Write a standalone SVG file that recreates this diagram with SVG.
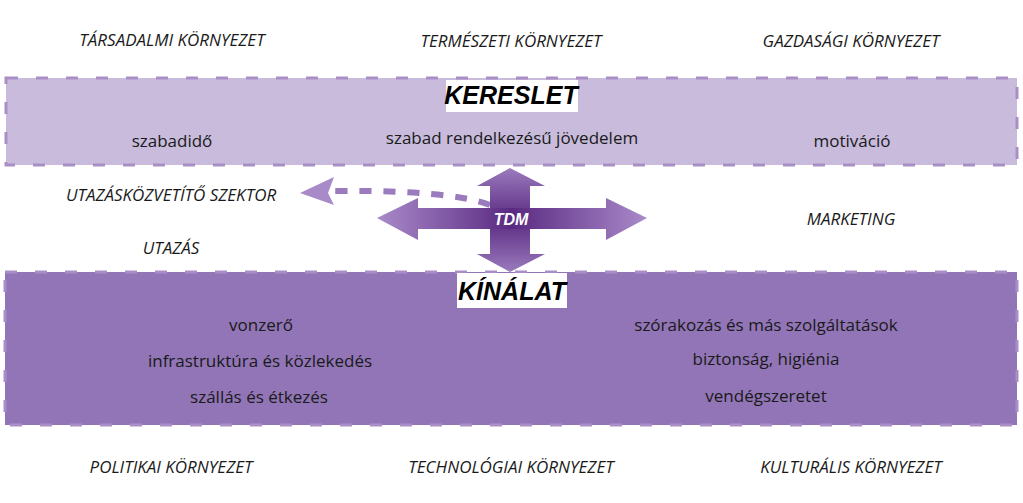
<svg xmlns="http://www.w3.org/2000/svg" width="1023" height="503" viewBox="0 0 1023 503">
<defs>
<style>
.t{font-family:"Open Sans","Liberation Sans",sans-serif;font-size:17px;fill:#1a1a1a;text-anchor:middle}
.i{font-style:italic}
.h{font-family:"Liberation Sans",sans-serif;font-weight:bold;font-style:italic;font-size:25px;fill:#000;text-anchor:middle}
.band{stroke:#a98fc6;stroke-width:3;stroke-dasharray:12 18}
</style>
<linearGradient id="gh" x1="377" y1="0" x2="647" y2="0" gradientUnits="userSpaceOnUse">
<stop offset="0" stop-color="#a98ac9"/><stop offset="0.5" stop-color="#5a2a82"/><stop offset="1" stop-color="#a98ac9"/></linearGradient>
<linearGradient id="gv" x1="0" y1="168" x2="0" y2="272" gradientUnits="userSpaceOnUse">
<stop offset="0" stop-color="#9a7bbd"/><stop offset="0.5" stop-color="#5a2a82"/><stop offset="1" stop-color="#9a7bbd"/></linearGradient>
</defs>
<rect width="1023" height="503" fill="#fff"/>
<g id="kereslet">
<rect class="band" x="6" y="78" width="1011" height="87" fill="#c8bbdc"/>
<rect x="446" y="80" width="132" height="32" fill="#fff"/>
<text class="h" x="511" y="104">KERESLET</text>
<text class="t" x="172" y="147">szabadidő</text>
<text class="t" x="512" y="144">szabad rendelkezésű jövedelem</text>
<text class="t" x="852" y="147">motiváció</text>
</g>
<g id="kinalat">
<rect class="band" x="5" y="272" width="1012" height="153" fill="#9175b6"/>
<rect x="457" y="273" width="110" height="35" fill="#fff"/>
<text class="h" x="512" y="300">KÍNÁLAT</text>
<text class="t" x="261" y="331">vonzerő</text>
<text class="t" x="260" y="367">infrastruktúra és közlekedés</text>
<text class="t" x="259" y="403">szállás és étkezés</text>
<text class="t" x="766" y="331">szórakozás és más szolgáltatások</text>
<text class="t" x="766" y="365">biztonság, higiénia</text>
<text class="t" x="766" y="402">vendégszeretet</text>
</g>
<g id="env" class="t i">
<text class="t i" x="172" y="46">TÁRSADALMI KÖRNYEZET</text>
<text class="t i" x="511" y="47">TERMÉSZETI KÖRNYEZET</text>
<text class="t i" x="851" y="47">GAZDASÁGI KÖRNYEZET</text>
<text class="t i" x="171" y="473">POLITIKAI KÖRNYEZET</text>
<text class="t i" x="511" y="473">TECHNOLÓGIAI KÖRNYEZET</text>
<text class="t i" x="851" y="473">KULTURÁLIS KÖRNYEZET</text>
</g>
<g id="side">
<text class="t i" x="171" y="201">UTAZÁSKÖZVETÍTŐ SZEKTOR</text>
<text class="t i" x="171" y="254">UTAZÁS</text>
<text class="t i" x="851" y="225">MARKETING</text>
</g>
<g id="connectors">
<path d="M490 205 Q450 190 335 191" fill="none" stroke="#9a7bbd" stroke-width="6" stroke-dasharray="12 12"/>
<path d="M300 193 L334 177 L328 193 L334 205 Z" fill="#a98ac9"/>
</g>
<g id="tdm">
<path d="M377 218 L418 198 L418 208 L606 208 L606 198 L647 218 L606 240 L606 229 L418 229 L418 240 Z" fill="url(#gh)"/>
<path d="M510 168 L545 186 L530 186 L530 254 L545 254 L510 272 L477 254 L490 254 L490 186 L477 186 Z" fill="url(#gv)"/>
<path d="M418 208 L606 208 L606 229 L418 229 Z" fill="url(#gh)"/>
<text x="511" y="225" font-family="Liberation Sans,sans-serif" font-weight="bold" font-style="italic" font-size="16" fill="#fff" text-anchor="middle">TDM</text>
</g>
</svg>
